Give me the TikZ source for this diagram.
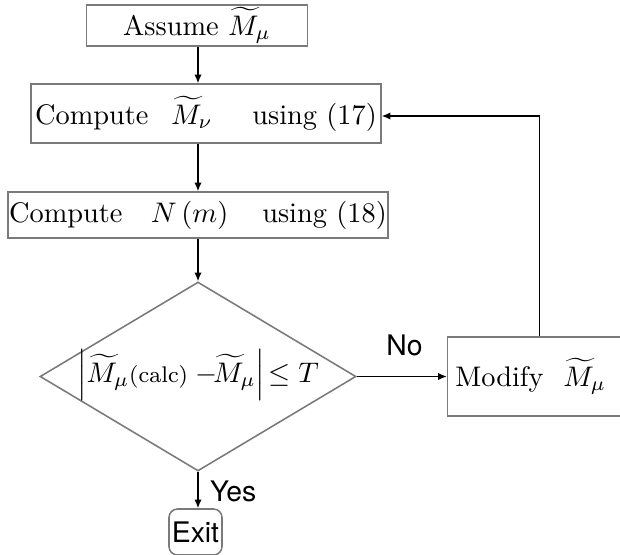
\documentclass[tikz,border=0pt]{standalone}
\usepackage{amsmath}
\usepackage{fontspec}
\newfontfamily\helv{TeX Gyre Heros}
\usetikzlibrary{positioning,arrows.meta,shapes.geometric,calc}
\definecolor{ink}{HTML}{000000}
\definecolor{edge}{HTML}{7A7A7A}
\newcommand{\px}{0.353pt}
\tikzset{
  blk/.style={draw=edge, line width=0.55pt, rectangle, fill=white, align=center,
              inner sep=0pt, font=\normalsize},
  dec/.style={draw=edge, line width=0.55pt, diamond, aspect=1.8, fill=white,
              align=center, inner sep=0pt, text height=6pt, text depth=2pt},
  term/.style={draw=edge, line width=0.55pt, rounded corners=3pt, fill=white,
               inner sep=0pt, font=\helv},
  aflow/.style={-{Latex[length=3pt,width=2.6pt]}, line width=0.5pt, draw=ink},
  guard/.style={font=\helv, inner sep=1pt},
}
\begin{document}
\begin{tikzpicture}[x=\px, y=-\px]
\useasboundingbox (0,0) rectangle (620,554);
  % process boxes
  \node[blk, minimum width=221*\px, minimum height=41*\px] (assume) at (197,25.5)
     {Assume $\widetilde{M}_{\mu}$};
  \node[blk, minimum width=350*\px, minimum height=59*\px] (compnu) at (206,113.5)
     {Compute\hspace{8pt}$\widetilde{M}_{\nu}$\hspace{14pt}using (17)};
  \node[blk, minimum width=380*\px, minimum height=46*\px] (compn) at (198,215)
     {Compute\hspace{10pt}$N\left(m\right)$\hspace{12pt}using (18)};
  % test
  \node[dec, minimum width=316*\px, minimum height=189*\px] (test) at (198,376.5)
     {$\left|\widetilde{M}_{\mu}\text{\footnotesize(calc)}\;{-}\!\widetilde{M}_{\mu}\right|\!\leq T$};
  \node[blk, minimum width=175*\px, minimum height=79*\px] (modify) at (535,376.5)
     {Modify\hspace{7pt}$\widetilde{M}_{\mu}$\hspace{3pt}};
  \node[term, minimum width=53*\px, minimum height=46*\px] (exit) at (195.5,532) {Exit};
  % flow
  \draw[aflow] (assume.south -| 198,0) -- (198,0 |- compnu.north);
  \draw[aflow] (compnu.south -| 198,0) -- (198,0 |- compn.north);
  \draw[aflow] (compn.south -| 198,0) -- (test.north);
  \draw[aflow] (test.east) -- node[guard, above=6pt, xshift=1pt] {No} (modify.west);
  \draw[aflow] (test.south) -- node[guard, right=3pt, pos=0.55] {Yes} (test.south |- exit.north);
  \draw[aflow] ([xshift=4.5*\px]modify.north) |- ([yshift=-2.5*\px]compnu.east);
\end{tikzpicture}
\end{document}
